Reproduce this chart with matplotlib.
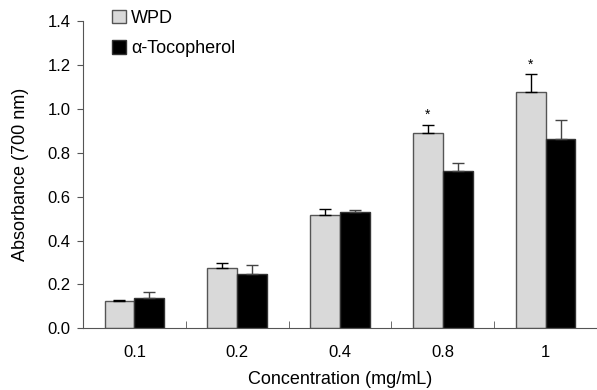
import numpy as np
import matplotlib
matplotlib.use("Agg")
import matplotlib.pyplot as plt

plt.rcParams['font.family'] = ['Liberation Sans', 'DejaVu Sans']

# data
concentrations = ['0.1', '0.2', '0.4', '0.8', '1']
wpd = [0.124, 0.276, 0.515, 0.89, 1.078]
wpd_err = [0.004, 0.021, 0.028, 0.037, 0.08]
toc = [0.138, 0.249, 0.53, 0.715, 0.862]
toc_err = [0.03, 0.04, 0.008, 0.04, 0.088]
significant = [False, False, False, True, True]

fig = plt.figure(figsize=(5.97, 3.9), dpi=100)
ax = fig.add_axes([0.139, 0.158, 0.861, 0.788])

x = np.arange(len(concentrations))
w = 0.29
zeros = [0] * len(concentrations)
ax.bar(x - w / 2, wpd, w, color='#d9d9d9', edgecolor='#555555', linewidth=1.0,
       yerr=[zeros, wpd_err], error_kw=dict(ecolor='black', elinewidth=1.0, capsize=4, capthick=1.0),
       label='WPD', zorder=2)
ax.bar(x + w / 2, toc, w, color='black', edgecolor='#333333', linewidth=1.0,
       yerr=[zeros, toc_err], error_kw=dict(ecolor='#444444', elinewidth=1.0, capsize=4, capthick=1.0),
       label='α-Tocopherol', zorder=2)

# asterisks above significant WPD bars
for i, s in enumerate(significant):
    if s:
        ax.text(x[i] - w / 2, wpd[i] + wpd_err[i] + 0.012, '*', ha='center', va='bottom', fontsize=10)

ax.set_xlim(-0.5, len(concentrations) - 0.5)
ax.set_ylim(0, 1.4)
ax.set_yticks(np.arange(0, 1.41, 0.2))
ax.set_yticklabels([f'{v:.1f}' for v in np.arange(0, 1.41, 0.2)])
ax.set_xticks(x)
ax.set_xticklabels(concentrations)
ax.tick_params(axis='x', length=0, labelsize=12, pad=12)
ax.tick_params(axis='y', direction='out', length=4, labelsize=12, color='#555555', pad=5)
ax.set_xticks(np.arange(0.5, len(concentrations) - 1, 1), minor=True)
ax.tick_params(axis='x', which='minor', direction='in', length=5, color='#555555')

for side in ['top', 'right']:
    ax.spines[side].set_visible(False)
ax.spines['left'].set_color('#555555')
ax.spines['bottom'].set_color('#555555')

ax.set_xlabel('Concentration (mg/mL)', fontsize=13, labelpad=8)
ax.set_ylabel('Absorbance (700 nm)', fontsize=13, labelpad=13)

leg = ax.legend(loc='upper left', bbox_to_anchor=(0.025, 1.09), frameon=False,
                fontsize=13, handlelength=0.75, handleheight=0.75, handletextpad=0.3,
                labelspacing=0.75)

fig.savefig('out.png', dpi=100)
